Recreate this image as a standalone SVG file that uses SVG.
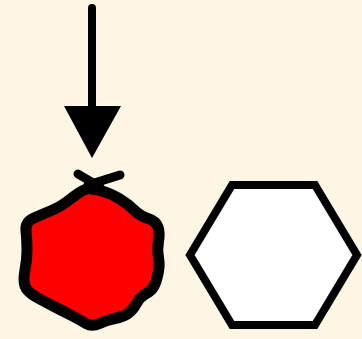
<svg xmlns="http://www.w3.org/2000/svg" width="362" height="339" viewBox="0 0 362 339">
<style>
.ln{stroke:#000;stroke-width:8;fill:none;stroke-linecap:round}
.blob{fill:#ff0000;stroke:#000;stroke-width:11;stroke-linejoin:round}
.tie{stroke:#000;stroke-width:9;stroke-linecap:round;fill:none}
.hex{fill:#fff;stroke:#000;stroke-width:8;stroke-linejoin:miter}
</style>
<rect width="362" height="339" fill="#fdf6e4"/>
<g id="connectors">
<line class="ln" x1="92" y1="8" x2="92" y2="108"/>
<polygon points="64,106 121,106 92,158" fill="#000"/>
</g>
<g id="blob">
<path class="blob" d="M 86.5,189 Q 90,188 100,190.5 Q 110,193 119,198.5 Q 128,204 134,210 Q 140,216 148,218.5 Q156,221 158,227 Q160,233 158.5,241.5 Q157,250 158.5,257.5 Q160,265 158,274 Q156,283 153.5,287 Q151,291 145.5,294 Q140,297 136.5,303.5 Q133,310 128,313.5 Q123,317 115,318.5 Q107,320 99.5,323.5 Q92,327 86,323.5 Q80,320 72.5,316 Q65,312 56,307.5 Q47,303 37,297.5 Q27,292 25,286 Q23,280 25,270 Q27,260 27,250 Q27,240 26,231 Q25,222 34,218 Q43,214 51.5,210.5 Q60,207 66.5,202 Q73,197 78,193.5 Q83,190 86.5,189 Z"/>
<line class="tie" x1="78" y1="174" x2="100" y2="187"/>
<line class="tie" x1="120" y1="175" x2="88" y2="185"/>
</g>
<g id="hexagon">
<polygon class="hex" points="190,255 232,185 315,185 357,255 315,325 232,325"/>
</g>
</svg>
